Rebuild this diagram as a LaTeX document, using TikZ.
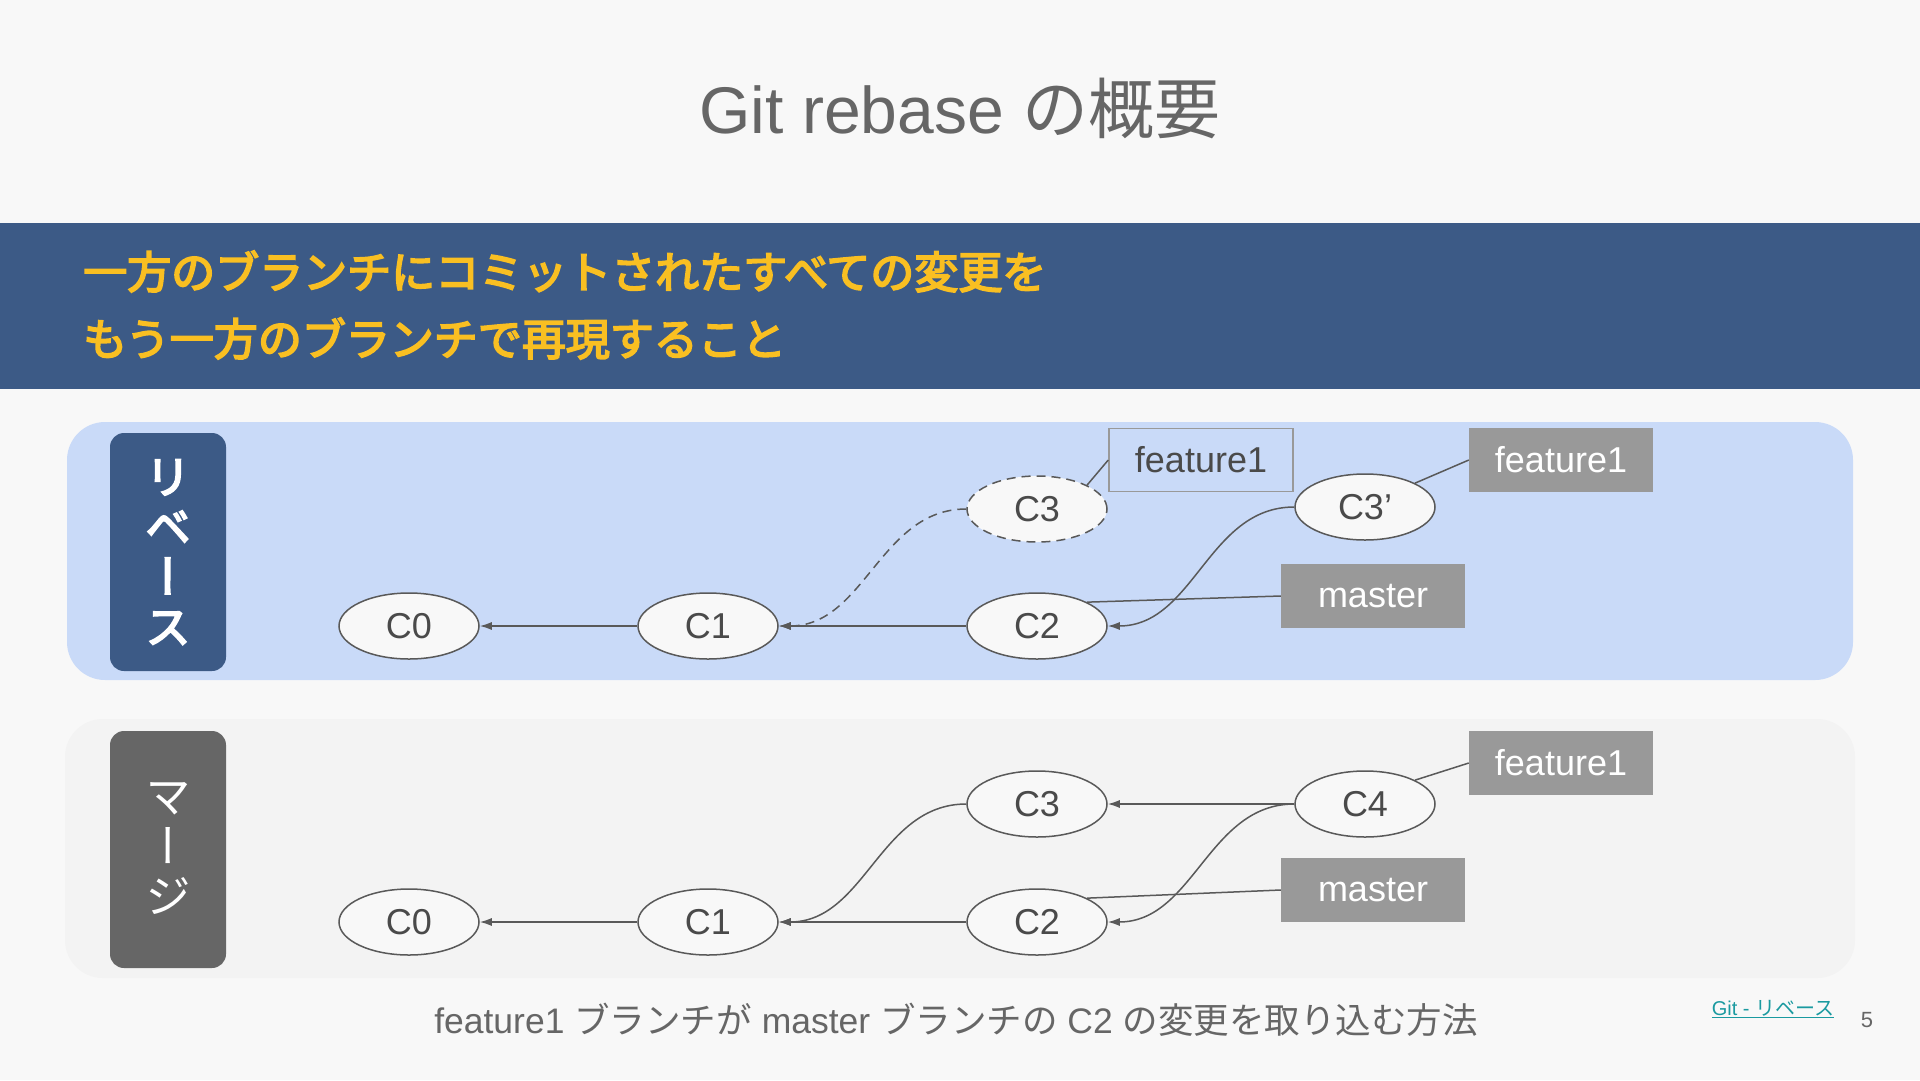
\documentclass[tikz,border=0pt]{standalone}
\usepackage{fontspec}
\setmainfont{Liberation Sans}
\newfontfamily\jp{Noto Sans CJK JP}[AutoFakeBold=4]
\newfontfamily\jpv{Noto Sans CJK JP}[AutoFakeBold=4,RawFeature=+vert]
\usetikzlibrary{arrows.meta,shapes.geometric}
\definecolor{slidebg}{HTML}{F8F8F8}
\definecolor{bandblue}{HTML}{3C5A86}
\definecolor{leadyellow}{HTML}{F9BF22}
\definecolor{rebasebg}{HTML}{C9DAF8}
\definecolor{mergebg}{HTML}{F3F3F3}
\definecolor{mergebox}{HTML}{666666}
\definecolor{titlegray}{HTML}{666666}
\definecolor{linegray}{HTML}{595959}
\definecolor{textgray}{HTML}{4A4A4A}
\definecolor{branchgray}{HTML}{999999}
\definecolor{linkteal}{HTML}{1A9AA0}

\begin{document}
\begin{tikzpicture}[x=1pt,y=-1pt,
    commit/.style={ellipse,draw=linegray,fill=slidebg,line width=1.5,minimum width=140,minimum height=66,inner sep=0,text=textgray,font=\fontsize{36}{40}\selectfont},
    branch/.style={rectangle,fill=branchgray,text=white,minimum width=184,minimum height=64,font=\fontsize{36}{40}\selectfont},
    oldbranch/.style={rectangle,draw=branchgray,line width=1.5,text=textgray,minimum width=184,minimum height=63,font=\fontsize{36}{40}\selectfont},
    link/.style={draw=linegray,line width=1.5},
    arr/.style={link,-{Latex[length=12,width=8]}},
    oldarr/.style={arr,dash pattern=on 9 off 6},
    sidelabel/.style={align=center,text=white,font=\jpv\fontsize{46}{50}\selectfont}]
  \useasboundingbox (0,0) rectangle (1920,1080);
  \fill[slidebg] (0,0) rectangle (1920,1080);
  \node[text=titlegray,font=\fontsize{66}{72}\selectfont] (title) at (960,108) {Git rebase {\jp の概要}};
  \fill[bandblue] (0,223) rectangle (1920,389);
  \node[anchor=west,align=left,inner sep=0,text=leadyellow,font=\jp\bfseries\fontsize{44}{67}\selectfont] (lead) at (83,305)
    {一方のブランチにコミットされたすべての変更を\\もう一方のブランチで再現すること};

  \fill[rebasebg,rounded corners=38] (67,422) rectangle (1853,680);
  \fill[bandblue,rounded corners=14] (110,433) rectangle (226,671);
  \node[sidelabel,font=\jpv\bfseries\fontsize{46}{50}\selectfont] (rlabel) at (168,552) {リ\\ベ\\ー\\ス};
  \node[commit] (r0) at (409,626) {C0};
  \node[commit] (r1) at (708,626) {C1};
  \node[commit] (r2) at (1037,626) {C2};
  \node[commit,dash pattern=on 9 off 6] (r3) at (1037,509) {C3};
  \node[commit] (r3n) at (1365,507) {C3’};
  \node[oldbranch] (rf1old) at (1201,460) {feature1};
  \node[branch] (rf1) at (1561,460) {feature1};
  \node[branch] (rmaster) at (1373,596) {master};
  \draw[arr] (r1) -- (r0);
  \draw[arr] (r2) -- (r1);
  \draw[oldarr] (r3.west) to[out=180,in=0] (r1.east);
  \draw[arr] (r3n.west) to[out=180,in=0] (r2.east);
  \draw[link] (rf1old.west) -- (r3.north east);
  \draw[link] (rf1.west) -- (r3n.north east);
  \draw[link] (rmaster.west) -- (r2.north east);

  \fill[mergebg,rounded corners=38] (65,719) rectangle (1855,978);
  \fill[mergebox,rounded corners=14] (110,731) rectangle (226,968);
  \node[sidelabel] (mlabel) at (168,849) {マ\\ー\\ジ};
  \node[commit] (m0) at (409,922) {C0};
  \node[commit] (m1) at (708,922) {C1};
  \node[commit] (m2) at (1037,922) {C2};
  \node[commit] (m3) at (1037,804) {C3};
  \node[commit] (m4) at (1365,804) {C4};
  \node[branch] (mf1) at (1561,763) {feature1};
  \node[branch] (mmaster) at (1373,890) {master};
  \draw[arr] (m1) -- (m0);
  \draw[arr] (m2) -- (m1);
  \draw[arr] (m3.west) to[out=180,in=0] (m1.east);
  \draw[arr] (m4) -- (m3);
  \draw[arr] (m4.west) to[out=180,in=0] (m2.east);
  \draw[link] (mf1.west) -- (m4.north east);
  \draw[link] (mmaster.west) -- (m2.north east);

  \node[text=titlegray,font=\fontsize{35.5}{40}\selectfont] (caption) at (956,1020)
    {feature1 {\jp ブランチが} master {\jp ブランチの} C2 {\jp の変更を取り込む方法}};
  \node[text=linkteal,font=\fontsize{20}{24}\selectfont] (source) at (1773,1009) {\underline{Git - {\jp リベース}}};
  \node[text=titlegray,font=\fontsize{22}{26}\selectfont] (page) at (1867,1020) {5};
\end{tikzpicture}
\end{document}
